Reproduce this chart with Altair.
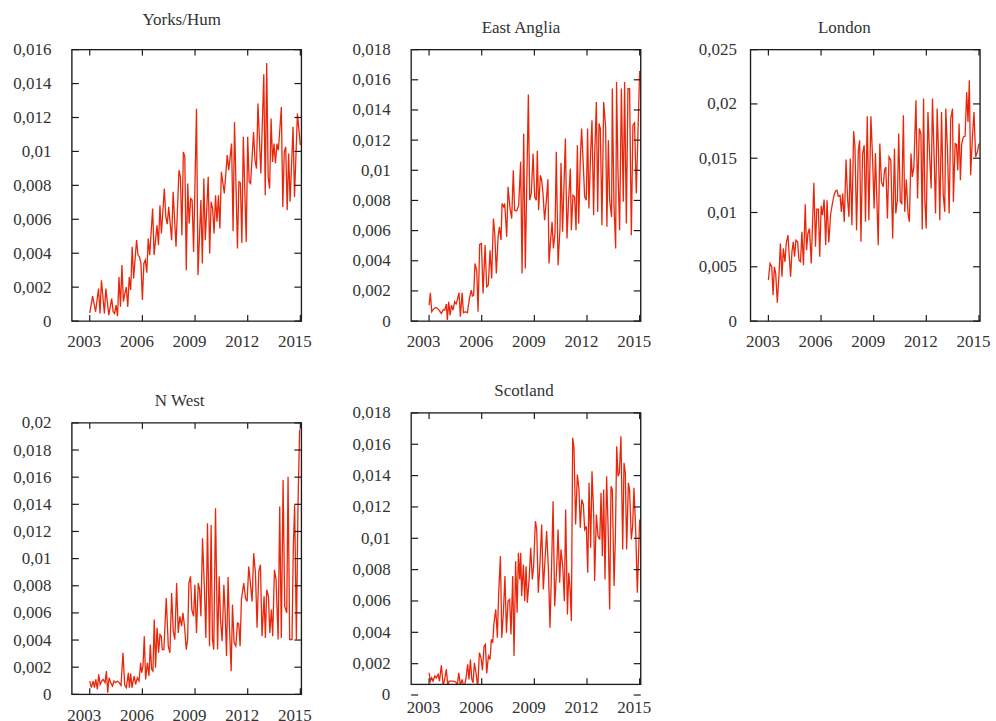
import altair as alt
import pandas as pd

# ---------------- data (months since Jan 2003, share values) ----------------
YH_M = [0, 2, 4, 6, 7, 8, 10, 11, 13, 15, 16, 17, 18, 19, 20, 21, 22, 23, 24, 25,
        26, 27, 28, 29, 30, 32, 33, 34, 35, 36, 37, 38, 39, 40, 41, 43, 44, 45, 46, 47,
        48, 49, 51, 52, 53, 54, 56, 57, 59, 61, 62, 63, 64, 65, 66, 67, 68, 69, 70, 71,
        73, 74, 76, 77, 78, 79, 81, 82, 83, 84, 85, 86, 87, 88, 89, 90, 92, 94, 95, 97,
        98, 99, 101, 102, 103, 104, 105, 107, 108, 109, 110, 112, 113, 114, 115, 117, 119, 120, 121, 122,
        123, 124, 125, 126, 127, 128, 129, 131, 132, 133, 134, 135, 136, 137, 139, 140, 142, 144]
YH_V = [.00049, .00147, .00055, .00192, .00045, .00241, .00045, .00192, .00035, .00133,
        .00055, .00045, .00094, .00029, .0026, .00084, .0033, .00114, .00163, .002,
        .00084, .0026, .00183, .00438, .00251, .00477, .00389, .00379, .0034, .00124,
        .0034, .0036, .00285, .00487, .00389, .00664, .00389, .00477, .00565, .00448,
        .00683, .00516, .00781, .00614, .00571, .00673, .00477, .00762, .00438, .00889,
        .0085, .00506, .00997, .00968, .003, .00811, .00575, .00722, .00713, .00408,
        .01252, .00271, .00713, .0034, .0084, .00477, .0085, .00398, .00703, .00664,
        .00516, .00742, .00585, .00742, .00546, .0088, .00752, .00978, .00889, .01046,
        .0053, .01174, .00428, .00821, .00815, .00461, .01086, .00467, .01086, .00821,
        .00811, .01115, .00948, .00899, .01282, .0087, .01455, .00742, .01521, .0085,
        .00781, .01194, .00938, .01046, .00929, .01046, .01007, .01262, .00673, .00997,
        .01027, .00654, .00987, .00703, .01145, .00732, .01223, .01037]

EA_M = [0, 0.9, 1.8, 3.4, 5.0, 6.8, 8.4, 9.8, 10.7, 11.8,
        12.5, 13.4, 14.4, 15.3, 16.4, 17.5, 18.5, 19.4, 20.5, 21.4,
        22.6, 23.5, 24.8, 26.2, 27.6, 28.9, 29.6, 30.5, 31.4, 32.6,
        33.5, 34.6, 35.8, 36.9, 38.3, 39.4, 40.5, 41.7, 42.8, 44.0,
        44.9, 46.0, 47.2, 48.1, 49.2, 49.9, 51.0, 51.7, 53.1, 54.0,
        55.4, 56.5, 57.6, 58.5, 59.9, 61.3, 62.6, 63.6, 64.7, 65.8,
        67.9, 68.8, 69.9, 71.1, 72.2, 73.3, 74.0, 74.9, 76.1, 77.0,
        77.9, 79.0, 80.2, 81.3, 82.0, 83.1, 84.1, 85.0, 86.1, 87.0,
        88.2, 89.5, 90.2, 91.3, 93.2, 94.3, 95.4, 96.6, 97.3, 98.4,
        99.5, 100.5, 101.4, 102.3, 103.4, 104.3, 105.2, 106.4, 107.5, 108.4,
        109.3, 110.5, 111.4, 112.5, 113.2, 114.4, 115.3, 116.2, 117.1, 118.2,
        119.4, 120.7, 121.6, 122.6, 123.5, 124.8, 125.3, 126.4, 127.6, 128.2,
        129.2, 130.3, 131.5, 132.8, 133.7, 134.9, 136.0, 137.1, 138.3, 139.4,
        140.5, 141.7, 144]
EA_V = [.00106, .00188, .00062, .00084, .0009, .00073, .00051, .00077, .00073, .00113,
        .00007, .00128, .0004, .00106, .00073, .00128, .00113, .00144, .00188, .00029,
        .00188, .00055, .00062, .00055, .0015, .00205, .00166, .00172, .00382, .00333,
        .00062, .00508, .00515, .00183, .00504, .00227, .00239, .0047, .00283, .0068,
        .00581, .00316, .00559, .00625, .00537, .0078, .00758, .0078, .00559, .0089,
        .00746, .0068, .01, .00735, .00731, .00769, .01056, .00316, .01243, .00349,
        .01502, .00802, .00846, .01111, .00824, .00802, .01129, .00735, .00967, .00934,
        .00846, .00669, .00802, .00941, .00382, .00537, .00658, .00481, .00581, .01122,
        .00371, .00614, .01049, .00592, .0121, .00548, .00802, .01011, .00603, .00835,
        .00824, .00603, .01166, .00647, .01067, .01277, .01089, .00824, .00802, .01277,
        .00746, .01122, .01332, .00702, .01093, .01453, .00724, .0131, .01277, .00636,
        .01453, .01288, .00625, .01199, .00802, .00691, .01542, .0078, .00481, .01586,
        .00978, .00603, .01542, .00791, .01586, .00647, .01542, .01542, .0057, .01299,
        .01314, .00846, .01659]

LD_M = [0, 1.1, 2.3, 3.2, 4.1, 5.0, 6.1, 7.3, 8.2, 9.3,
        10.2, 11.3, 12.2, 13.4, 14.3, 15.2, 16.1, 17.0, 17.9, 18.8,
        20.0, 20.9, 22.0, 22.9, 24.0, 25.2, 26.1, 27.0, 28.1, 29.3,
        31.1, 32.2, 33.1, 34.2, 35.1, 36.1, 37.0, 38.1, 39.2, 40.1,
        41.3, 42.6, 43.8, 44.9, 46.0, 46.9, 47.8, 49.0, 49.9, 50.8,
        51.9, 53.1, 54.2, 55.1, 56.0, 57.1, 58.3, 59.2, 60.3, 61.5,
        62.4, 63.3, 64.4, 65.5, 66.4, 67.6, 68.7, 70.1, 71.2, 72.3,
        73.2, 75.1, 76.2, 77.3, 78.5, 79.4, 80.3, 81.4, 82.5, 83.7,
        85.0, 86.2, 87.1, 88.2, 89.1, 90.2, 91.2, 92.3, 93.2, 94.3,
        95.5, 96.4, 97.5, 98.4, 99.5, 100.9, 102.0, 103.2, 104.3, 105.2,
        106.1, 107.0, 107.9, 109.1, 110.2, 111.3, 112.2, 113.4, 114.3, 115.4,
        116.3, 117.2, 118.4, 119.5, 120.6, 121.3, 122.4, 123.6, 124.7, 125.9,
        126.5, 127.7, 128.6, 129.5, 130.4, 131.3, 132.2, 133.3, 134.5, 135.6,
        136.5, 137.4, 138.3, 139.5, 140.6, 141.7, 142.9, 144.0]
LD_V = [.00377, .00531, .005, .00239, .005, .00439, .00169, .00439, .00715, .00408,
        .00669, .00546, .00715, .00791, .00592, .00408, .00638, .0073, .00592, .00745,
        .0073, .00561, .00546, .00822, .00515, .01077, .00653, .00807, .00853, .00531,
        .01273, .00684, .01031, .01031, .00592, .01061, .00975, .0112, .00699, .01113,
        .00724, .00991, .01083, .01159, .01199, .01205, .0115, .01159, .01006, .01175,
        .00914, .01487, .01113, .0096, .01497, .00883, .01748, .01604, .00837, .01573,
        .01665, .0073, .01543, .01619, .00914, .01886, .00929, .01886, .01512, .01037,
        .01549, .00699, .01635, .01282, .01236, .01389, .0142, .00945, .01512, .01481,
        .00761, .01589, .00991, .01113, .01727, .01098, .01083, .01895, .01006, .01304,
        .00991, .00914, .01543, .01328, .0142, .02033, .01129, .01773, .01727, .00843,
        .02049, .01113, .00853, .01926, .01543, .01221, .02049, .01481, .00991, .01957,
        .01573, .00929, .01926, .01175, .01006, .01957, .01589, .00991, .01865, .01957,
        .01098, .01635, .01625, .01389, .01819, .01297, .01635, .01696, .01702, .0211,
        .01834, .02217, .01343, .01696, .01926, .01512, .01558, .01635]

NW_M = [0, 1.1, 2.3, 3.2, 4.1, 5.2, 6.1, 7.1, 8.2, 9.1,
        10.5, 11.4, 12.3, 13.2, 14.3, 15.5, 16.6, 17.7, 18.9, 20.0,
        21.4, 22.7, 23.9, 25.0, 26.4, 27.1, 28.0, 28.9, 30.3, 31.4,
        32.5, 33.7, 34.8, 35.5, 36.4, 37.3, 38.2, 39.4, 40.5, 41.4,
        42.3, 43.2, 44.1, 45.0, 46.0, 47.1, 48.0, 48.9, 49.6, 50.7,
        52.3, 53.7, 54.8, 56.0, 57.1, 58.2, 59.4, 60.5, 61.6, 62.8,
        63.7, 64.8, 66.0, 66.9, 67.8, 68.9, 69.8, 71.0, 71.9, 73.0,
        74.2, 75.1, 76.0, 77.1, 78.5, 79.4, 80.5, 81.9, 83.0, 83.9,
        84.8, 86.0, 87.4, 88.5, 89.4, 90.5, 91.7, 92.6, 93.5, 94.6,
        95.5, 96.7, 97.6, 98.7, 99.9, 101.0, 101.9, 102.8, 103.7, 105.3,
        106.5, 107.6, 108.7, 109.6, 111.0, 112.1, 113.3, 114.4, 115.6, 116.7,
        117.8, 119.2, 120.1, 121.0, 122.2, 123.1, 124.2, 125.1, 126.3, 127.4,
        128.8, 129.9, 131.0, 132.2, 133.3, 134.7, 135.6, 136.7, 138.3, 139.2,
        140.1, 141.3, 142.4, 143.5, 144.0]
NW_V = [.00098, .00049, .00098, .00049, .0011, .00037, .00147, .00073, .00098, .0011,
        .00086, .00171, .00012, .00122, .00086, .00061, .00098, .00086, .00098, .00086,
        .00066, .00306, .00066, .00049, .00159, .00049, .00154, .00049, .00135, .00073,
        .00122, .00098, .00233, .00159, .00208, .00428, .0011, .00233, .00135, .00367,
        .00184, .00171, .00551, .00196, .0049, .00306, .00441, .00428, .0033, .0033,
        .0071, .00355, .00306, .00747, .00465, .00404, .0082, .00453, .00575, .00502,
        .006, .00502, .0033, .00404, .0082, .00869, .00624, .00575, .00808, .00453,
        .0082, .00771, .00575, .0115, .00747, .00416, .01261, .00355, .01248, .00404,
        .0033, .01371, .0033, .00869, .00551, .00392, .00808, .006, .00282, .00864,
        .00502, .00171, .00661, .0038, .00355, .00526, .00519, .00355, .00698, .0082,
        .0071, .00685, .00942, .00845, .00685, .0104, .00894, .0049, .00906, .00955,
        .00428, .00722, .00416, .00771, .00722, .00453, .00624, .00428, .00918, .00845,
        .00404, .01383, .00416, .01579, .00649, .006, .01603, .00404, .00404, .01089,
        .01395, .00404, .01395, .01946, .01946]

SC_M = [0, 0.9, 1.8, 2.7, 3.9, 5.0, 6.2, 7.1, 8.4, 9.6,
        10.7, 11.8, 12.8, 13.7, 15.3, 16.6, 18.2, 19.4, 20.3, 21.4,
        22.6, 23.5, 24.4, 25.3, 26.4, 27.3, 28.3, 29.2, 30.1, 31.0,
        32.1, 33.3, 34.4, 35.5, 36.5, 37.6, 38.5, 39.4, 40.6, 41.7,
        42.6, 43.5, 44.4, 45.6, 46.7, 47.6, 48.8, 49.7, 50.8, 51.9,
        52.9, 54.0, 55.1, 56.0, 57.2, 58.1, 59.2, 60.2, 61.1, 62.0,
        62.7, 63.3, 64.5, 65.4, 66.3, 67.2, 68.4, 69.5, 70.6, 71.5,
        72.7, 73.6, 74.7, 75.9, 77.0, 78.1, 79.3, 80.4, 81.6, 82.7,
        83.8, 84.8, 85.9, 87.3, 88.2, 89.3, 90.2, 91.4, 92.5, 93.4,
        94.6, 95.5, 96.4, 97.3, 98.2, 99.1, 100.2, 101.4, 102.5, 103.4,
        104.4, 105.5, 106.4, 107.5, 108.5, 109.4, 110.5, 111.4, 112.6, 113.2,
        114.4, 115.5, 116.7, 117.6, 118.5, 119.4, 120.3, 121.4, 122.4, 123.5,
        124.4, 125.3, 126.5, 127.4, 128.3, 129.2, 130.1, 131.2, 132.4, 133.3,
        134.2, 135.1, 136.3, 137.1, 138.3, 139.2, 140.1, 141.3, 142.4, 144.0]
SC_V = [.00142, .00089, .0011, .00089, .00121, .0011, .00132, .00089, .00189, .00062,
        .001, .00164, .00062, .00089, .00089, .00089, .00083, .00068, .00142, .00062,
        .001, .00062, .00068, .0011, .00196, .001, .00227, .001, .00079, .00206,
        .00142, .00047, .0027, .00238, .00159, .00312, .00323, .00138, .00249, .00227,
        .00355, .00334, .00461, .00546, .00366, .00652, .00886, .00366, .00525, .00759,
        .00397, .00599, .0061, .00387, .00759, .00249, .00854, .00525, .00907, .00737,
        .00907, .00631, .00833, .00599, .00822, .00589, .00737, .00939, .00737, .00822,
        .01109, .01056, .00652, .00854, .01088, .00674, .00865, .01046, .00801, .00429,
        .00833, .01237, .00567, .00822, .01056, .00716, .00929, .00822, .00599, .01184,
        .00514, .0078, .00684, .00472, .01641, .01577, .01088, .01407, .01311, .01067,
        .01247, .01216, .01056, .01077, .0078, .01354, .00939, .01428, .01141, .00727,
        .01152, .01014, .00992, .0129, .00886, .01311, .00737, .01396, .01077, .00546,
        .01332, .01311, .00695, .01003, .01587, .01396, .01417, .01651, .00929, .01481,
        .01417, .00929, .01354, .01311, .00992, .01077, .01322, .01046, .00652, .0112]

X_TICKS = [2003, 2006, 2009, 2012, 2015]
YT_016 = [0, .002, .004, .006, .008, .01, .012, .014, .016]
YT_018 = [0, .002, .004, .006, .008, .01, .012, .014, .016, .018]
YT_025 = [0, .005, .01, .015, .02, .025]
YT_020 = [0, .002, .004, .006, .008, .01, .012, .014, .016, .018, .02]

# ---------------- styling ----------------
RED = "#ea260a"
INK = "#1c1c1c"
TXT = "#333333"
FONT = "Liberation Serif"
FS = 17
W, H = 230, 272
X_DOMAIN = [2001.98, 2015.06]


def panel(title, months, values, ymin, ymax, yticks, title_dx, title_offset,
          label_pad, top=0, xpad=12):
    rows = [(2003 + m / 12.0, v) for m, v in zip(months, values)]
    df = pd.DataFrame(rows, columns=["year", "value"])
    HT = H + top
    xs = alt.Scale(domain=X_DOMAIN, nice=False, zero=False)
    ys = alt.Scale(domain=[ymin, ymax], nice=False, zero=False, range=[HT, top])
    xaxis = alt.Axis(values=X_TICKS, format="d", title=None, grid=False, domain=False,
                     ticks=False, tickSize=0, labelFont=FONT, labelFontSize=FS,
                     labelColor=TXT, labelPadding=xpad, labelOffset=-6, labelFlush=False,
                     labelOverlap=False)
    yaxis = alt.Axis(values=[t for t in yticks if t >= ymin],
                     labelExpr="replace(format(datum.value, '~g'), '.', ',')",
                     title=None, grid=False, domain=False, ticks=False, tickSize=0,
                     labelFont=FONT, labelFontSize=FS, labelColor=TXT,
                     labelPadding=label_pad, labelFlush=False, labelOverlap=False)
    X = lambda f: alt.X(f, scale=xs, axis=xaxis)
    Y = lambda f: alt.Y(f, scale=ys, axis=yaxis)
    line = alt.Chart(df).mark_line(color=RED, strokeWidth=1.3, clip=True).encode(
        x=X("year:Q"), y=Y("value:Q"))
    ydf = pd.DataFrame({"value": yticks})
    xdf = pd.DataFrame({"year": X_TICKS})
    tl = alt.Chart(ydf).mark_rule(color=INK, strokeWidth=1.2).encode(
        y=Y("value:Q"), x=alt.value(0), x2=alt.value(7))
    tr = alt.Chart(ydf).mark_rule(color=INK, strokeWidth=1.2).encode(
        y=Y("value:Q"), x=alt.value(W - 7), x2=alt.value(W))
    tb = alt.Chart(xdf).mark_rule(color=INK, strokeWidth=1.2).encode(
        x=X("year:Q"), y=alt.value(HT), y2=alt.value(HT - 6))
    tt = alt.Chart(xdf).mark_rule(color=INK, strokeWidth=1.2).encode(
        x=X("year:Q"), y=alt.value(top), y2=alt.value(top + 6))
    frame = alt.Chart(pd.DataFrame({"a": [0]})).mark_rect(
        fillOpacity=0, stroke=INK, strokeWidth=1.3).encode(
        x=alt.value(0), x2=alt.value(W), y=alt.value(top), y2=alt.value(HT))
    layers = [line, tl, tr, tb, tt, frame]
    if top > 0:
        cover = alt.Chart(pd.DataFrame({"a": [0]})).mark_rect(
            fill="white", strokeWidth=0).encode(
            x=alt.value(-2), x2=alt.value(W + 2), y=alt.value(-2), y2=alt.value(top - 1))
        layers.append(cover)
    if ymin > 0:
        zero = alt.Chart(pd.DataFrame({"value": [0]})).mark_text(
            align="right", baseline="middle", font=FONT, fontSize=FS, color=TXT,
            text="0").encode(y=Y("value:Q"), x=alt.value(-label_pad))
        layers.append(zero)
    return alt.layer(*layers).properties(
        width=W, height=HT,
        title=alt.TitleParams(text=title, font=FONT, fontSize=FS, fontWeight="normal",
                              color=TXT, anchor="middle", dx=title_dx,
                              offset=title_offset, baseline="alphabetic"),
    )


yorks = panel("Yorks/Hum", YH_M, YH_V, 0, 0.016, YT_016, -5, -1, 21)
east = panel("East Anglia", EA_M, EA_V, 0, 0.018, YT_018, -5, -9, 21)
london = panel("London", LD_M, LD_V, 0, 0.025, YT_025, -21, -9, 14)
nwest = panel("N West", NW_M, NW_V, 0, 0.02, YT_020, -7, -12, 21, top=10, xpad=13)
scot = panel("Scotland", SC_M, SC_V, 0.00068, 0.018, YT_018, -2, -9, 21, xpad=15)

chart = alt.concat(
    yorks, east, london, nwest, scot,
    columns=3, spacing={"row": 92, "column": 110}, bounds="flush",
).properties(
    padding={"left": 12, "top": 9, "right": 5, "bottom": 5},
).configure_view(stroke="transparent", strokeWidth=0).configure(background="white")

chart.save("out.html", embed_options={"renderer": "svg", "actions": False})
